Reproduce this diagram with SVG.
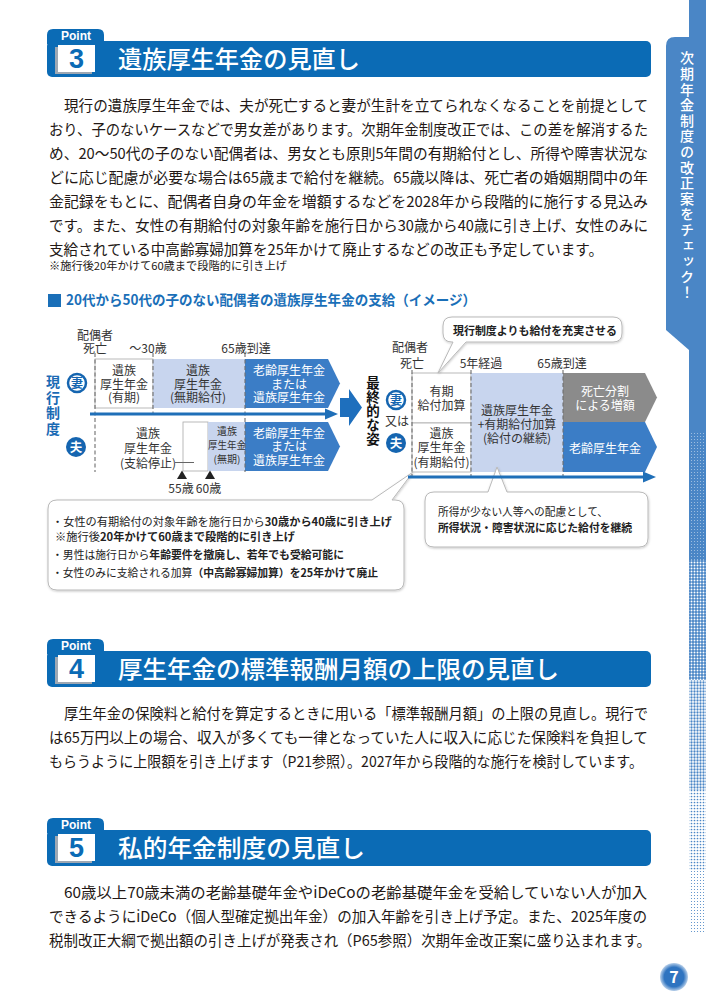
<svg xmlns="http://www.w3.org/2000/svg" width="706" height="1000" viewBox="0 0 706 1000">
<style>
text{font-family:"Noto Sans CJK JP","Noto Sans CJK SC",sans-serif;}
.body{font-size:15px;fill:#231815;}
.note{font-size:11px;fill:#231815;}
.ttl{font-size:24px;font-weight:500;fill:#fff;}
.pt{font-family:"Liberation Sans",Arial,sans-serif;font-size:12px;font-weight:700;fill:#fff;text-anchor:middle;}
.num{font-family:"Liberation Sans",Arial,sans-serif;font-size:27px;font-weight:700;fill:#0b6bb5;text-anchor:middle;}
.l{font-size:12px;fill:#333;text-anchor:middle;}
.s{font-size:10px;fill:#333;text-anchor:middle;}
.w{fill:#fff;}
.b{font-weight:700;}
.dash{stroke:#6e6e6e;stroke-width:1.1;stroke-dasharray:4 2.5;fill:none;}
.hb{fill:#0b6bb5;}
.lb{fill:#c8d5ee;}
.ar{fill:#3b7dc6;}
.gr{fill:#8b8b8b;}
.wb{fill:#fff;stroke:#a9a9a9;stroke-width:0.8;}
.call{fill:#fff;stroke:#b9b9b9;stroke-width:1;filter:url(#sh);}
.cl{font-size:11px;fill:#222;}
.tl{stroke:#1f6fb8;stroke-width:3;fill:none;}
.tlh{fill:#1f6fb8;}
.vt{writing-mode:vertical-rl;font-weight:700;}
</style>
<defs>
<filter id="sh" x="-5%" y="-10%" width="110%" height="130%">
<feDropShadow dx="0.5" dy="1" stdDeviation="1.2" flood-color="#000" flood-opacity="0.22"/>
</filter>
<g id="hdr">
<path class="hb" d="M47,3 V-6 Q47,-12 53,-12 H98 Q104,-12 104,-6 V3 Z"/>
<rect class="hb" x="47" y="0" width="604" height="36" rx="5"/>
<rect x="55" y="6" width="37" height="27" fill="#9ea8b3"/>
<rect x="58" y="4" width="37" height="27" fill="#fff"/>
<text class="pt" x="76" y="-1">Point</text>
</g>
<pattern id="pA" width="3" height="3" patternUnits="userSpaceOnUse"><rect width="3" height="3" fill="#4a86c6"/><circle cx="1.5" cy="1.5" r="0.5" fill="#fff" fill-opacity="0.6"/></pattern>
<pattern id="pB" width="3" height="3" patternUnits="userSpaceOnUse"><rect width="3" height="3" fill="#4a86c6"/><circle cx="1.5" cy="1.5" r="0.95" fill="#fff"/></pattern>
<pattern id="pC" width="3" height="3" patternUnits="userSpaceOnUse"><rect width="3" height="3" fill="#fff"/><circle cx="1.5" cy="1.5" r="1.15" fill="#4a86c6"/></pattern>
<pattern id="pD" width="3" height="3" patternUnits="userSpaceOnUse"><rect width="3" height="3" fill="#fff"/><circle cx="1.5" cy="1.5" r="0.85" fill="#4a86c6"/></pattern>
<pattern id="pE" width="3" height="3" patternUnits="userSpaceOnUse"><rect width="3" height="3" fill="#fff"/><circle cx="1.5" cy="1.5" r="0.55" fill="#4a86c6"/></pattern>
<radialGradient id="pg" cx="0.5" cy="0.5" r="0.5"><stop offset="0.7" stop-color="#2f74c0"/><stop offset="1" stop-color="#2f74c0" stop-opacity="0.35"/></radialGradient>
</defs>

<rect width="706" height="1000" fill="#fff"/>

<!-- sidebar -->
<g id="sidebar">
<rect x="689" y="0" width="17" height="432" fill="#4a86c6"/>
<rect x="689" y="432" width="17" height="128" fill="url(#pA)"/>
<rect x="689" y="560" width="17" height="120" fill="url(#pB)"/>
<rect x="689" y="680" width="17" height="110" fill="url(#pC)"/>
<rect x="689" y="790" width="17" height="80" fill="url(#pD)"/>
<rect x="689" y="870" width="17" height="62" fill="url(#pE)"/>
<path d="M706,37 H675 Q666,37 666,46 V330 L689,350 H706 Z" fill="#4a86c6"/>
<text x="687" y="51" style="writing-mode:vertical-rl" font-size="14" font-weight="500" fill="#fff" letter-spacing="1.6">次期年金制度の改正案をチェック！</text>
</g>

<!-- Point 3 -->
<g id="point3-header">
<use href="#hdr" y="41"/>
<text class="num" x="76.5" y="68">3</text>
<text class="ttl" x="118" y="68" textLength="242" lengthAdjust="spacingAndGlyphs">遺族厚生年金の見直し</text>
</g>
<g id="point3-text">
<text class="body" x="64" y="111" textLength="584" lengthAdjust="spacingAndGlyphs">現行の遺族厚生年金では、夫が死亡すると妻が生計を立てられなくなることを前提として</text>
<text class="body" x="49" y="135" textLength="599" lengthAdjust="spacingAndGlyphs">おり、子のないケースなどで男女差があります。次期年金制度改正では、この差を解消するた</text>
<text class="body" x="49" y="159" textLength="599" lengthAdjust="spacingAndGlyphs">め、20〜50代の子のない配偶者は、男女とも原則5年間の有期給付とし、所得や障害状況な</text>
<text class="body" x="49" y="183" textLength="599" lengthAdjust="spacingAndGlyphs">どに応じ配慮が必要な場合は65歳まで給付を継続。65歳以降は、死亡者の婚姻期間中の年</text>
<text class="body" x="49" y="207" textLength="599" lengthAdjust="spacingAndGlyphs">金記録をもとに、配偶者自身の年金を増額するなどを2028年から段階的に施行する見込み</text>
<text class="body" x="49" y="231" textLength="599" lengthAdjust="spacingAndGlyphs">です。また、女性の有期給付の対象年齢を施行日から30歳から40歳に引き上げ、女性のみに</text>
<text class="body" x="49" y="255" textLength="554" lengthAdjust="spacingAndGlyphs">支給されている中高齢寡婦加算を25年かけて廃止するなどの改正も予定しています。</text>
<text class="note" x="49" y="270" textLength="238" lengthAdjust="spacingAndGlyphs">※施行後20年かけて60歳まで段階的に引き上げ</text>
</g>

<!-- diagram title -->
<g id="diagram-title">
<rect x="48" y="294" width="13" height="13" fill="#1a6fb8"/>
<text x="66" y="305" font-size="14" font-weight="700" fill="#1a6fb8" textLength="410" lengthAdjust="spacingAndGlyphs">20代から50代の子のない配偶者の遺族厚生年金の支給（イメージ）</text>
</g>

<!-- left: current system -->
<g id="current-labels">
<text class="vt" x="53" y="375" font-size="14" letter-spacing="1.5" fill="#1a6ab4">現行制度</text>
<circle cx="77" cy="383" r="9" fill="#fff" stroke="#1565b0" stroke-width="2.5"/>
<text x="77" y="387.5" font-size="12" font-weight="700" fill="#1565b0" text-anchor="middle">妻</text>
<circle cx="76" cy="447" r="10" fill="#1565b0"/>
<text x="76" y="451.6" font-size="12.5" font-weight="700" fill="#fff" text-anchor="middle">夫</text>
<text class="l" x="95" y="339.6">配偶者</text>
<text class="l" x="95" y="352.6">死亡</text>
<text class="l" x="148" y="352.6">〜30歳</text>
<text class="l" x="246" y="352.6">65歳到達</text>
</g>

<g id="current-wife">
<rect class="wb" x="95" y="359" width="58" height="49"/>
<rect class="lb" x="153" y="359" width="92" height="49"/>
<path class="ar" d="M245,359 H328 L340,383.5 L328,408 H245 Z"/>
<text class="l" x="124" y="375">遺族</text>
<text class="l" x="124" y="388.5">厚生年金</text>
<text class="l" x="124" y="402">(有期)</text>
<text class="l" x="198" y="375">遺族</text>
<text class="l" x="198" y="388.5">厚生年金</text>
<text class="l" x="198" y="402">(無期給付)</text>
<text class="l w" x="289" y="375">老齢厚生年金</text>
<text class="l w" x="289" y="388.5">または</text>
<text class="l w" x="289" y="402">遺族厚生年金</text>
</g>

<g id="current-husband">
<rect class="wb" x="183" y="422" width="25" height="49"/>
<rect class="lb" x="208" y="422" width="37" height="49"/>
<path class="ar" d="M245,422 H328 L340,446.5 L328,471 H245 Z"/>
<text class="l" x="148" y="437.5">遺族</text>
<text class="l" x="148" y="452.5">厚生年金</text>
<text class="l" x="148" y="467.5">(支給停止)</text>
<line x1="175" y1="462.5" x2="194" y2="462.5" stroke="#666" stroke-width="1"/>
<text class="s" x="227" y="435">遺族</text>
<text class="s" x="227" y="449" textLength="38" lengthAdjust="spacingAndGlyphs">厚生年金</text>
<text class="s" x="227" y="463">(無期)</text>
<text class="l w" x="289" y="437.5">老齢厚生年金</text>
<text class="l w" x="289" y="451">または</text>
<text class="l w" x="289" y="464.5">遺族厚生年金</text>
<polygon points="177,479 182,470.5 187,479" fill="#222"/>
<polygon points="205,479 210,470.5 215,479" fill="#222"/>
<text class="l" x="181" y="493">55歳</text>
<text class="l" x="208.5" y="493">60歳</text>
</g>

<!-- right: final form -->
<g id="final-labels">
<text class="vt" x="373" y="376" font-size="13.5" letter-spacing="0.6" fill="#111">最終的な姿</text>
<circle cx="396" cy="400" r="9" fill="#fff" stroke="#1565b0" stroke-width="2.5"/>
<text x="396" y="404.5" font-size="12" font-weight="700" fill="#1565b0" text-anchor="middle">妻</text>
<text class="l" x="397" y="426.2" font-size="11.5">又は</text>
<circle cx="396" cy="443" r="10" fill="#1565b0"/>
<text x="396" y="447.6" font-size="12.5" font-weight="700" fill="#fff" text-anchor="middle">夫</text>
<text class="l" x="410" y="351.6">配偶者</text>
<text class="l" x="412" y="367.6">死亡</text>
<text class="l" x="481" y="367.6">5年経過</text>
<text class="l" x="562" y="367.6">65歳到達</text>
</g>

<g id="final-boxes">
<rect class="wb" x="412" y="373" width="59" height="50"/>
<rect class="wb" x="412" y="423" width="59" height="49"/>
<rect class="lb" x="471" y="373" width="92" height="99"/>
<path class="gr" d="M563,373 H645 L657,397.5 L645,422 H563 Z"/>
<path class="ar" d="M563,422 H645 L657,447 L645,472 H563 Z"/>
<text class="l" x="441.5" y="395.6">有期</text>
<text class="l" x="441.5" y="409.6">給付加算</text>
<text class="l" x="441.5" y="437.6">遺族</text>
<text class="l" x="441.5" y="452">厚生年金</text>
<text class="l" x="441.5" y="466.6">(有期給付)</text>
<text class="l" x="517" y="414.6" font-size="11.8">遺族厚生年金</text>
<text class="l" x="517" y="428.6" font-size="11.8">+有期給付加算</text>
<text class="l" x="517" y="442.6" font-size="11.8">(給付の継続)</text>
<text class="l w" x="605" y="395.6">死亡分割</text>
<text class="l w" x="605" y="409.6">による増額</text>
<text class="l w" x="605" y="452.6">老齢厚生年金</text>
</g>

<!-- callouts -->
<g id="callout-top">
<path class="call" d="M452,317 H613 Q622,317 622,326 V333 Q622,342 613,342 H466 L438,373 L453,342 H452 Q443,342 443,333 V326 Q443,317 452,317 Z"/>
<text x="535" y="335" font-size="11.5" font-weight="700" fill="#222" text-anchor="middle" textLength="164" lengthAdjust="spacingAndGlyphs">現行制度よりも給付を充実させる</text>
</g>
<g id="callout-left">
<path class="call" d="M57,500 H372 L413,472 L392,500 H395 Q404,500 404,509 V581 Q404,590 395,590 H57 Q48,590 48,581 V509 Q48,500 57,500 Z"/>
<text class="cl" x="52" y="526" textLength="340" lengthAdjust="spacingAndGlyphs">・女性の有期給付の対象年齢を施行日から<tspan class="b">30歳から40歳に引き上げ</tspan></text>
<text class="cl" x="55" y="541" textLength="240" lengthAdjust="spacingAndGlyphs">※施行後<tspan class="b">20年かけて60歳まで段階的に引き上げ</tspan></text>
<text class="cl" x="52" y="559" textLength="292" lengthAdjust="spacingAndGlyphs">・男性は施行日から<tspan class="b">年齢要件を撤廃し、若年でも受給可能に</tspan></text>
<text class="cl" x="52" y="577" textLength="326" lengthAdjust="spacingAndGlyphs">・女性のみに支給される加算<tspan class="b">（中高齢寡婦加算）を25年かけて廃止</tspan></text>
</g>
<g id="callout-right">
<path class="call" d="M434,492 H488 L497,467 L507,492 H639 Q648,492 648,501 V538 Q648,547 639,547 H434 Q425,547 425,538 V501 Q425,492 434,492 Z"/>
<text class="cl" x="438" y="516" textLength="170" lengthAdjust="spacingAndGlyphs">所得が少ない人等への配慮として、</text>
<text class="cl b" x="438" y="532" textLength="194" lengthAdjust="spacingAndGlyphs">所得状況・障害状況に応じた給付を継続</text>
</g>

<!-- connectors -->
<g id="connectors">
<line class="dash" x1="95" y1="353" x2="95" y2="472"/>
<line class="dash" x1="153" y1="353" x2="153" y2="414"/>
<line class="dash" x1="245" y1="353" x2="245" y2="472"/>
<line class="dash" x1="412" y1="370" x2="412" y2="476"/>
<line class="dash" x1="471" y1="370" x2="471" y2="476"/>
<line class="dash" x1="563" y1="370" x2="563" y2="476"/>
<line class="tl" x1="90" y1="414" x2="327" y2="414"/>
<polygon class="tlh" points="325,408.5 338,414 325,419.5"/>
<line class="tl" x1="408" y1="477" x2="645" y2="477"/>
<polygon class="tlh" points="643,471.5 656,477 643,482.5"/>
<path d="M340,398 H349 V389 L362,407.5 L349,426 V417 H340 Z" fill="#1e6fbd"/>
</g>

<!-- Point 4 -->
<g id="point4-header">
<use href="#hdr" y="651"/>
<text class="num" x="76.5" y="678">4</text>
<text class="ttl" x="118" y="678" textLength="441" lengthAdjust="spacingAndGlyphs">厚生年金の標準報酬月額の上限の見直し</text>
</g>
<g id="point4-text">
<text class="body" x="64" y="719" textLength="584" lengthAdjust="spacingAndGlyphs">厚生年金の保険料と給付を算定するときに用いる「標準報酬月額」の上限の見直し。現行で</text>
<text class="body" x="49" y="743" textLength="599" lengthAdjust="spacingAndGlyphs">は65万円以上の場合、収入が多くても一律となっていた人に収入に応じた保険料を負担して</text>
<text class="body" x="49" y="767" textLength="594" lengthAdjust="spacingAndGlyphs">もらうように上限額を引き上げます（P21参照）。2027年から段階的な施行を検討しています。</text>
</g>

<!-- Point 5 -->
<g id="point5-header">
<use href="#hdr" y="830"/>
<text class="num" x="76.5" y="857">5</text>
<text class="ttl" x="118" y="857" textLength="247" lengthAdjust="spacingAndGlyphs">私的年金制度の見直し</text>
</g>
<g id="point5-text">
<text class="body" x="64" y="898" textLength="583" lengthAdjust="spacingAndGlyphs">60歳以上70歳未満の老齢基礎年金やiDeCoの老齢基礎年金を受給していない人が加入</text>
<text class="body" x="49" y="922" textLength="598" lengthAdjust="spacingAndGlyphs">できるようにiDeCo（個人型確定拠出年金）の加入年齢を引き上げ予定。また、2025年度の</text>
<text class="body" x="49" y="946" textLength="602" lengthAdjust="spacingAndGlyphs">税制改正大綱で拠出額の引き上げが発表され（P65参照）次期年金改正案に盛り込まれます。</text>
</g>

<!-- page number -->
<g id="page-number">
<circle cx="674" cy="977" r="14" fill="url(#pg)"/>
<text x="674" y="983" font-family="Liberation Sans,Arial,sans-serif" font-size="16" font-weight="700" fill="#fff" text-anchor="middle">7</text>
</g>
</svg>
